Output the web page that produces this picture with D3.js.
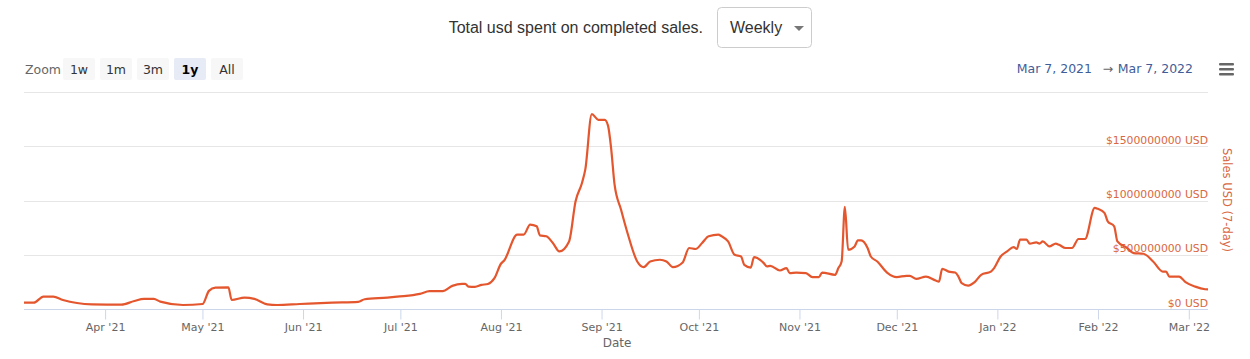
<!DOCTYPE html>
<html>
<head>
<meta charset="utf-8">
<script src="https://cdn.jsdelivr.net/npm/d3@7/dist/d3.min.js"></script>
<style>
  html, body { margin: 0; padding: 0; background: #fff; }
  svg { display: block; }
</style>
</head>
<body>
<svg id="chart" width="1250" height="359"></svg>
<script>
// ---------- DATA ----------
const title = "Total usd spent on completed sales.";
const periodOption = "Weekly";
const zoomButtons = ["1w", "1m", "3m", "1y", "All"];
const selectedZoom = "1y";
const rangeLabels = ["Mar 7, 2021", "Mar 7, 2022"];
const yAxisTitle = "Sales USD (7-day)";
const xAxisTitle = "Date";
const yTicks = [0, 500000000, 1000000000, 1500000000, 2000000000];
const xTickDates = ["2021-04-01","2021-05-01","2021-06-01","2021-07-01","2021-08-01","2021-09-01",
  "2021-10-01","2021-11-01","2021-12-01","2022-01-01","2022-02-01","2022-03-01"];

const dates = [
  "2021-03-07","2021-03-10","2021-03-13","2021-03-16","2021-03-19","2021-03-28","2021-04-06","2021-04-10",
  "2021-04-13","2021-04-16","2021-04-18","2021-04-25","2021-05-01","2021-05-03","2021-05-05","2021-05-09",
  "2021-05-10","2021-05-14","2021-05-17","2021-05-21","2021-05-24","2021-05-31","2021-06-10","2021-06-18",
  "2021-06-20","2021-06-27","2021-06-30","2021-07-07","2021-07-10","2021-07-14","2021-07-17","2021-07-20",
  "2021-07-21","2021-07-22","2021-07-24","2021-07-26","2021-07-28","2021-07-30","2021-08-01","2021-08-02",
  "2021-08-06","2021-08-08","2021-08-10","2021-08-12","2021-08-13","2021-08-15","2021-08-17","2021-08-19",
  "2021-08-22","2021-08-24","2021-08-26","2021-08-27","2021-08-29","2021-08-31","2021-09-02","2021-09-03",
  "2021-09-04","2021-09-05","2021-09-07","2021-09-09","2021-09-12","2021-09-14","2021-09-16","2021-09-19",
  "2021-09-21","2021-09-23","2021-09-26","2021-09-28","2021-09-30","2021-10-02","2021-10-04","2021-10-07",
  "2021-10-08","2021-10-10","2021-10-12","2021-10-14","2021-10-15","2021-10-17","2021-10-18","2021-10-19",
  "2021-10-21","2021-10-22","2021-10-23","2021-10-26","2021-10-28","2021-10-29","2021-10-31","2021-11-03",
  "2021-11-05","2021-11-07","2021-11-08","2021-11-12","2021-11-13","2021-11-14","2021-11-15","2021-11-16",
  "2021-11-18","2021-11-19","2021-11-20","2021-11-22","2021-11-23","2021-11-25","2021-11-28","2021-12-01",
  "2021-12-04","2021-12-05","2021-12-07","2021-12-10","2021-12-13","2021-12-14","2021-12-15","2021-12-17",
  "2021-12-19","2021-12-20","2021-12-21","2021-12-23","2021-12-25","2021-12-27","2021-12-30","2021-12-31",
  "2022-01-02","2022-01-04","2022-01-06","2022-01-07","2022-01-08","2022-01-10","2022-01-11","2022-01-13",
  "2022-01-14","2022-01-15","2022-01-17","2022-01-19","2022-01-20","2022-01-22","2022-01-24","2022-01-26",
  "2022-01-28","2022-01-31","2022-02-01","2022-02-03","2022-02-04","2022-02-06","2022-02-07","2022-02-10",
  "2022-02-12","2022-02-15","2022-02-18","2022-02-21","2022-02-22","2022-02-23","2022-02-26","2022-02-28",
  "2022-03-03","2022-03-06","2022-03-07"
];
// Sales in millions USD (7-day)
const salesMillions = [
  58,58,114,114,83,43,40,74,
  93,93,68,37,46,167,197,200,
  83,105,93,43,37,46,58,65,
  90,105,114,139,164,164,213,231,
  231,206,204,222,231,284,417,447,
  685,685,778,762,679,670,608,531,
  623,994,1164,1287,1796,1744,1744,1690,
  1470,1150,917,701,438,386,438,454,
  438,386,429,562,553,608,670,685,
  670,623,500,484,407,382,479,470,
  423,392,398,355,377,331,336,331,
  294,294,336,315,377,438,942,546,
  577,632,632,562,484,438,336,294,
  306,306,278,299,262,253,370,345,
  336,299,238,216,247,315,345,377,
  484,531,571,553,639,639,602,614,
  602,623,577,602,592,562,562,645,
  645,932,923,886,808,762,623,562,
  515,509,438,345,345,299,299,247,
  206,182,180
];

// ---------- LAYOUT ----------
const svg = d3.select("#chart");
const W = 1250, H = 359;
const plot = { left: 24, right: 1208, top: 92, bottom: 309 };
const FONT = "'DejaVu Sans', sans-serif";
const lineColor = "#e4572e";
const yLabelColor = "#d9673f";

const parse = d3.utcParse("%Y-%m-%d");
const data = dates.map((d, i) => ({ date: parse(d), value: salesMillions[i] * 1e6 }));

const x = d3.scaleUtc()
  .domain([parse("2021-03-07"), new Date(Date.UTC(2022, 2, 6, 22))])
  .range([plot.left, plot.right]);
const y = d3.scaleLinear().domain([0, 2000000000]).range([plot.bottom, plot.top]);

// ---------- TOP CONTROLS ----------
svg.append("text")
  .attr("x", 703).attr("y", 33)
  .attr("text-anchor", "end")
  .attr("font-family", "'Liberation Sans', Arial, sans-serif")
  .attr("font-size", 16).attr("fill", "#333")
  .text(title);

svg.append("rect")
  .attr("x", 717.5).attr("y", 7.5).attr("width", 94).attr("height", 40)
  .attr("rx", 4).attr("fill", "#fff").attr("stroke", "#ccc");
svg.append("text")
  .attr("x", 730).attr("y", 33)
  .attr("font-family", "'Liberation Sans', Arial, sans-serif")
  .attr("font-size", 16).attr("fill", "#333")
  .text(periodOption);
svg.append("path")
  .attr("d", "M794,26 L804,26 L799,31 Z")
  .attr("fill", "#777");

// Zoom buttons
svg.append("text")
  .attr("x", 25).attr("y", 74)
  .attr("font-family", FONT).attr("font-size", 12.5).attr("fill", "#666")
  .text("Zoom");
const btnX = [63, 100, 137, 174, 211];
const btn = svg.selectAll("g.btn").data(zoomButtons).enter().append("g")
  .attr("transform", (d, i) => `translate(${btnX[i]},58)`);
btn.append("rect")
  .attr("width", 32).attr("height", 22).attr("rx", 2)
  .attr("fill", d => d === selectedZoom ? "#e6ebf5" : "#f7f7f7");
btn.append("text")
  .attr("x", 16).attr("y", 16).attr("text-anchor", "middle")
  .attr("font-family", FONT).attr("font-size", 12.5)
  .attr("font-weight", d => d === selectedZoom ? "bold" : "normal")
  .attr("fill", d => d === selectedZoom ? "#000" : "#333")
  .text(d => d);

// Range labels
const rangeG = svg.append("g")
  .attr("font-family", FONT).attr("font-size", 12.5).attr("fill", "#3f5d99");
rangeG.append("text").attr("x", 1092).attr("y", 73).attr("text-anchor", "end").text(rangeLabels[0]);
rangeG.append("text").attr("x", 1108).attr("y", 73).attr("text-anchor", "middle")
  .attr("fill", "#666").text("\u2192");
rangeG.append("text").attr("x", 1193).attr("y", 73).attr("text-anchor", "end").text(rangeLabels[1]);

// Hamburger menu
[0, 5, 10].forEach(o => {
  svg.append("rect").attr("x", 1219).attr("y", 63 + o).attr("width", 15).attr("height", 2.6)
    .attr("rx", 1).attr("fill", "#666");
});

// ---------- GRID ----------
svg.append("g").selectAll("line").data(yTicks.filter(v => v > 0)).enter().append("line")
  .attr("x1", plot.left).attr("x2", plot.right)
  .attr("y1", d => Math.round(y(d)) + 0.5).attr("y2", d => Math.round(y(d)) + 0.5)
  .attr("stroke", "#e6e6e6").attr("stroke-width", 1);

// ---------- X AXIS ----------
const xAxisG = svg.append("g")
  .attr("transform", `translate(0,${plot.bottom + 0.5})`)
  .call(d3.axisBottom(x)
    .tickValues(xTickDates.map(parse))
    .tickSize(10).tickPadding(4)
    .tickFormat(d3.utcFormat("%b '%y")));
xAxisG.select(".domain").remove();
xAxisG.insert("line", ":first-child")
  .attr("x1", plot.left).attr("x2", plot.right).attr("y1", 0).attr("y2", 0)
  .attr("stroke", "#ccd6eb");
xAxisG.selectAll(".tick line").attr("stroke", "#ccd6eb");
xAxisG.selectAll(".tick text")
  .attr("font-family", FONT).attr("font-size", 11).attr("fill", "#666");

svg.append("text")
  .attr("x", 617).attr("y", 347).attr("text-anchor", "middle")
  .attr("font-family", FONT).attr("font-size", 12).attr("fill", "#666")
  .text(xAxisTitle);

// ---------- Y AXIS (right, labels above gridlines) ----------
const yAxisG = svg.append("g")
  .attr("transform", `translate(${plot.right},0)`)
  .call(d3.axisLeft(y).tickValues(yTicks).tickSize(0).tickPadding(0)
    .tickFormat(d => "$" + d + " USD"));
yAxisG.select(".domain").remove();
yAxisG.selectAll(".tick text")
  .attr("font-family", FONT).attr("font-size", 10.8).attr("fill", yLabelColor)
  .attr("dy", "-3").attr("text-anchor", "end").attr("x", 0);
yAxisG.selectAll(".tick").filter(d => d === 2000000000).remove();

svg.append("text")
  .attr("transform", `translate(1223,200) rotate(90)`)
  .attr("text-anchor", "middle")
  .attr("font-family", FONT).attr("font-size", 11.5).attr("fill", yLabelColor)
  .text(yAxisTitle);

// ---------- LINE ----------
svg.append("clipPath").attr("id", "clip").append("rect")
  .attr("x", plot.left).attr("y", 0).attr("width", plot.right - plot.left).attr("height", H);
const line = d3.line().x(d => x(d.date)).y(d => y(d.value)).curve(d3.curveMonotoneX);
svg.append("path")
  .datum(data)
  .attr("clip-path", "url(#clip)")
  .attr("fill", "none").attr("stroke", lineColor).attr("stroke-width", 2.2)
  .attr("stroke-linejoin", "round")
  .attr("d", line);
</script>
</body>
</html>
